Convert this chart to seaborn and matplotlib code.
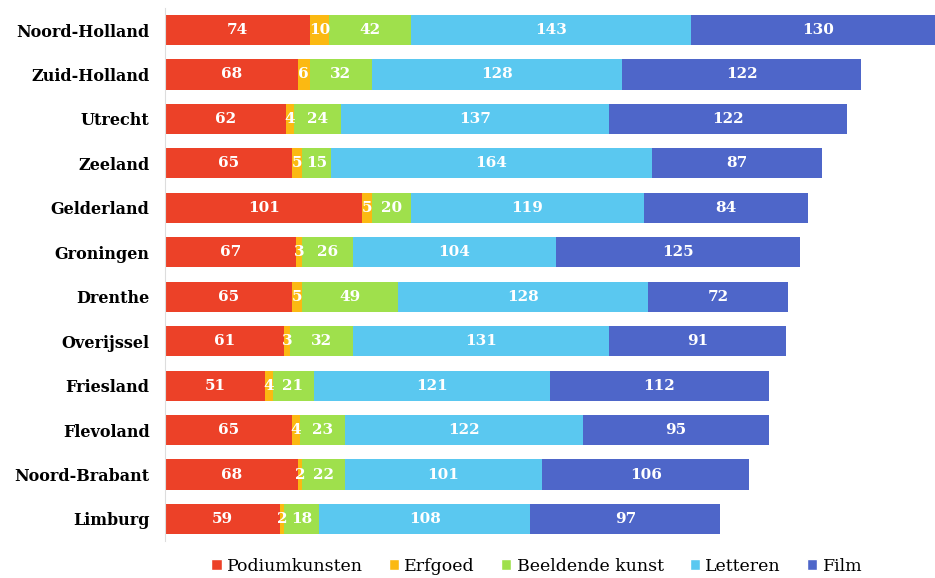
import pandas as pd
import matplotlib.pyplot as plt
import seaborn as sns
import numpy as np
from matplotlib.patches import Patch

provinces = ["Noord-Holland", "Zuid-Holland", "Utrecht", "Zeeland", "Gelderland",
             "Groningen", "Drenthe", "Overijssel", "Friesland", "Flevoland",
             "Noord-Brabant", "Limburg"]
podiumkunsten = [74, 68, 62, 65, 101, 67, 65, 61, 51, 65, 68, 59]
erfgoed = [10, 6, 4, 5, 5, 3, 5, 3, 4, 4, 2, 2]
beeldende_kunst = [42, 32, 24, 15, 20, 26, 49, 32, 21, 23, 22, 18]
letteren = [143, 128, 137, 164, 119, 104, 128, 131, 121, 122, 101, 108]
film = [130, 122, 122, 87, 84, 125, 72, 91, 112, 95, 106, 97]

series = ["Podiumkunsten", "Erfgoed", "Beeldende kunst", "Letteren", "Film"]
colors = ["#EC4128", "#FBB912", "#9FE04C", "#5AC8F0", "#4E66C9"]

df = pd.DataFrame({"provincie": provinces, "Podiumkunsten": podiumkunsten,
                   "Erfgoed": erfgoed, "Beeldende kunst": beeldende_kunst,
                   "Letteren": letteren, "Film": film})
cum = df[series].cumsum(axis=1)

sns.set_style("white")
plt.rcParams["font.family"] = ["DejaVu Serif"]

fig = plt.figure(figsize=(9.35, 5.78), dpi=100)
ax = fig.add_axes([0.1765, 0.0637, 0.8235, 0.9228])

# stacked bars: draw cumulative totals from the outermost segment inwards
for s, c in zip(series[::-1], colors[::-1]):
    sns.barplot(x=cum[s], y=df["provincie"], color=c, orient="h",
                width=0.68, saturation=1, linewidth=0, ax=ax)

for i in range(len(df)):
    left = 0
    for s in series:
        v = df.loc[i, s]
        ax.text(left + v / 2, i, str(v), ha="center", va="center",
                color="white", fontsize=11, fontweight="bold")
        left += v

ax.set_xlim(0, 394)
ax.set_ylim(11.5, -0.5)
ax.set_xlabel("")
ax.set_ylabel("")
ax.set_xticks([])
ax.tick_params(axis="y", length=0, pad=11, labelsize=11.5, labelcolor="black")
for lab in ax.get_yticklabels():
    lab.set_fontweight("bold")
ax.set_yticks(np.arange(-0.5, 12, 1), minor=True)
ax.tick_params(axis="y", which="minor", length=4, color="#dddddd")
for sp in ["top", "right", "bottom"]:
    ax.spines[sp].set_visible(False)
ax.spines["left"].set_color("#dddddd")

handles = [Patch(facecolor=c, label=s) for s, c in zip(series, colors)]
fig.legend(handles=handles, loc="center", bbox_to_anchor=(0.574, 0.02), ncol=5,
           frameon=False, fontsize=12.5, handlelength=0.6, handleheight=0.6,
           handletextpad=0.3, columnspacing=1.5, labelcolor="black")

plt.savefig("out.png", dpi=100)
